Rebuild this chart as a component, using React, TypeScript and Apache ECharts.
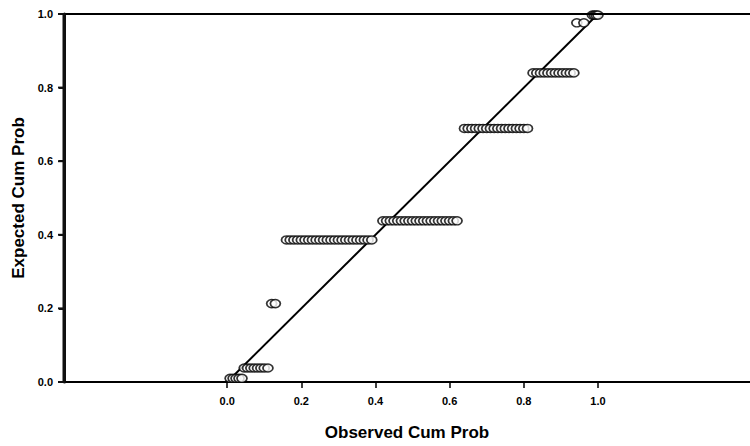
import React, { useEffect, useRef } from "react";
import * as echarts from "echarts";

const tickValues = [0, 0.2, 0.4, 0.6, 0.8, 1.0];
const tickLabels = ["0.0", "0.2", "0.4", "0.6", "0.8", "1.0"];

// observed cumulative probabilities per step and the expected value of each step
const stepA_x = [0.008, 0.016, 0.024, 0.032, 0.04];
const stepA_y = 0.01;
const stepB_x = [0.046, 0.055, 0.064, 0.073, 0.082, 0.091, 0.1, 0.11];
const stepB_y = 0.038;
const stepC_x = [0.12, 0.13];
const stepC_y = 0.213;
const stepD_x = [0.16, 0.17, 0.18, 0.19, 0.2, 0.21, 0.22, 0.23, 0.24, 0.25, 0.26, 0.27, 0.28, 0.29, 0.3, 0.31, 0.32, 0.33, 0.34, 0.35, 0.36, 0.37, 0.38, 0.39];
const stepD_y = 0.386;
const stepE_x = [0.42, 0.43, 0.44, 0.45, 0.46, 0.47, 0.48, 0.49, 0.5, 0.51, 0.52, 0.53, 0.54, 0.55, 0.56, 0.57, 0.58, 0.59, 0.6, 0.61, 0.62];
const stepE_y = 0.438;
const stepF_x = [0.64, 0.65, 0.66, 0.67, 0.68, 0.69, 0.7, 0.71, 0.72, 0.73, 0.74, 0.75, 0.76, 0.77, 0.78, 0.79, 0.8, 0.81];
const stepF_y = 0.689;
const stepG_x = [0.825, 0.835, 0.845, 0.855, 0.865, 0.875, 0.885, 0.895, 0.905, 0.915, 0.925, 0.935];
const stepG_y = 0.84;
const stepH_x = [0.943, 0.962];
const stepH_y = 0.976;
const stepI_x = [0.985, 0.99, 0.995, 1.0];
const stepI_y = 0.997;

const steps: [number[], number][] = [
  [stepA_x, stepA_y],
  [stepB_x, stepB_y],
  [stepC_x, stepC_y],
  [stepD_x, stepD_y],
  [stepE_x, stepE_y],
  [stepF_x, stepF_y],
  [stepG_x, stepG_y],
  [stepH_x, stepH_y],
  [stepI_x, stepI_y],
];

const refLine = [
  [0, 0],
  [1, 1],
];
const xMin = -0.44;
const xMax = 1.41;
const topValue = 1.0;

export default function App() {
  const ref = useRef<HTMLDivElement>(null);
  useEffect(() => {
    if (!ref.current) return;
    const chart = echarts.init(ref.current, null, { renderer: "svg" });
    const points: number[][] = [];
    steps.forEach(([xs, y]) => xs.forEach((x) => points.push([x, y])));
    const labelMap: Record<string, string> = {};
    tickValues.forEach((v, i) => (labelMap[v.toFixed(1)] = tickLabels[i]));
    const font = "'Liberation Sans', Arial, sans-serif";
    chart.setOption({
      animation: false,
      grid: { left: 64, right: 0, top: 14, bottom: 62 },
      xAxis: {
        type: "value",
        min: xMin,
        max: xMax,
        name: "Observed Cum Prob",
        nameLocation: "middle",
        nameGap: 42,
        nameTextStyle: { fontFamily: font, fontWeight: "bold", fontSize: 17, color: "#000" },
        axisLine: { show: true, onZero: false, lineStyle: { color: "#000", width: 2 } },
        axisTick: { show: true, length: 6, customValues: tickValues, lineStyle: { color: "#000", width: 1.5 } },
        axisLabel: {
          show: true,
          customValues: tickValues,
          margin: 13,
          fontFamily: font,
          fontWeight: "bold",
          fontSize: 11,
          color: "#000",
          formatter: (v: number) => labelMap[v.toFixed(1)] ?? "",
        },
        splitLine: { show: false },
      },
      yAxis: {
        type: "value",
        min: 0,
        max: 1,
        interval: 0.2,
        name: "Expected Cum Prob",
        nameLocation: "middle",
        nameGap: 36,
        nameTextStyle: { fontFamily: font, fontWeight: "bold", fontSize: 17, color: "#000" },
        axisLine: { show: true, onZero: false, lineStyle: { color: "#111", width: 3 } },
        axisTick: { show: true, length: 5, lineStyle: { color: "#111", width: 2 } },
        axisLabel: {
          margin: 11,
          fontFamily: font,
          fontWeight: "bold",
          fontSize: 11,
          color: "#000",
          formatter: (v: number) => labelMap[v.toFixed(1)] ?? "",
        },
        splitLine: { show: false },
      },
      series: [
        {
          type: "line",
          data: refLine,
          symbol: "none",
          lineStyle: { color: "#000", width: 2 },
          z: 3,
          markLine: {
            silent: true,
            symbol: "none",
            label: { show: false },
            lineStyle: { color: "#000", width: 2, type: "solid" },
            data: [{ yAxis: topValue }, { xAxis: xMin }],
          },
        },
        {
          type: "scatter",
          data: points,
          symbol: "circle",
          symbolSize: [10, 8],
          itemStyle: { color: "#fff", borderColor: "#000", borderWidth: 1.6 },
          z: 4,
        },
      ],
    });
    const bottom = chart.convertToPixel({ gridIndex: 0 }, [xMin, 0]) as number[];
    const top = chart.convertToPixel({ gridIndex: 0 }, [xMin, 1]) as number[];
    const elements: any[] = [
      {
        type: "line",
        z: 100,
        shape: { x1: bottom[0], y1: bottom[1] + 1, x2: top[0], y2: top[1] - 1 },
        style: { stroke: "#111", lineWidth: 3 },
      },
    ];
    tickValues.forEach((v) => {
      const p = chart.convertToPixel({ gridIndex: 0 }, [xMin, v]) as number[];
      elements.push({
        type: "line",
        z: 100,
        shape: { x1: p[0] - 6, y1: p[1], x2: p[0], y2: p[1] },
        style: { stroke: "#111", lineWidth: 2 },
      });
    });
    chart.setOption({ graphic: elements });
    return () => chart.dispose();
  }, []);
  return <div ref={ref} style={{ width: 750, height: 446, position: "absolute", left: 0, top: 0 }} />;
}
